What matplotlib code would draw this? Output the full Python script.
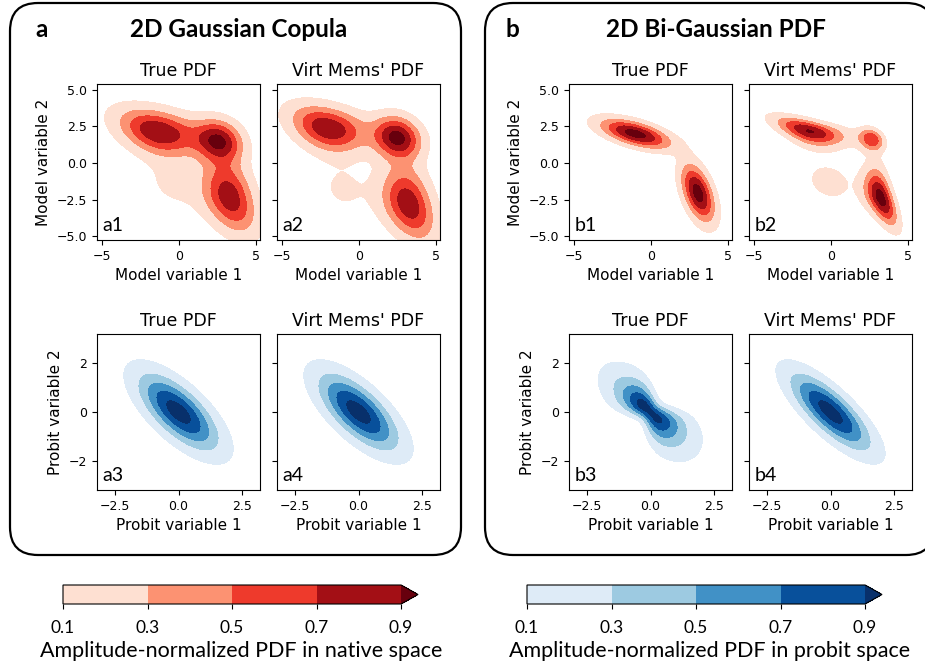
import math
import numpy as np
import matplotlib
matplotlib.use("Agg")
import matplotlib.pyplot as plt
from matplotlib.patches import FancyBboxPatch
from matplotlib.transforms import IdentityTransform

# ------------------------------------------------------------------ data
levels = [0.1, 0.3, 0.5, 0.7, 0.9]
cbar_ticks = [0.1, 0.3, 0.5, 0.7, 0.9]
col_titles = ["True PDF", "Virt Mems' PDF"]

# case a : Gaussian copula with bimodal marginals (true)
a_x_w = [0.44, 0.56]
a_x_m = [-1.1, 3.0]
a_x_s = [1.6, 0.95]
a_y_w = [0.42, 0.58]
a_y_m = [-2.1, 1.9]
a_y_s = [1.5, 0.85]
a_rho_true = -0.70
a1_bandwidth = 0.6  # smoothing of the native-space estimate
# case a : virtual members' estimate
a2_x_w = [0.40, 0.60]
a2_x_m = [-1.8, 2.9]
a2_x_s = [1.45, 0.95]
a2_y_w = [0.42, 0.58]
a2_y_m = [-2.6, 2.1]
a2_y_s = [1.5, 0.85]
a_rho_virt = -0.70
a2_bandwidth = 0.6

# case b : bi-Gaussian PDF (two components)
b_w = [0.5, 0.5]
b_mx = [-1.0, 3.05]
b_my = [2.0, -2.05]
b_sx = [1.45, 0.68]
b_sy = [0.64, 1.25]
b_r = [-0.60, -0.50]
b_rho_virt = -0.79
b3_bandwidth = 0.24  # smoothing of the probit-space estimate

# ------------------------------------------------------------------ helpers
SQ2 = math.sqrt(2.0)
_erfc = np.vectorize(math.erfc)


def phi(z):
    return np.exp(-0.5 * z * z) / math.sqrt(2 * math.pi)


def Phi(z):
    return 0.5 * _erfc(-np.asarray(z, dtype=float) / SQ2)


def mix_pdf(x, w, m, s):
    return sum(wi * phi((x - mi) / si) / si for wi, mi, si in zip(w, m, s))


def mix_cdf(x, w, m, s):
    return sum(wi * Phi((x - mi) / si) for wi, mi, si in zip(w, m, s))


def mix_sf(x, w, m, s):
    return sum(wi * Phi(-(x - mi) / si) for wi, mi, si in zip(w, m, s))


_zt = np.linspace(-37, 0, 37001)
_logPt = np.log(Phi(_zt))


def ppf_low(p):
    return np.interp(np.log(np.maximum(p, 1e-300)), _logPt, _zt)


def probit_of(x, w, m, s):
    F = mix_cdf(x, w, m, s)
    S = mix_sf(x, w, m, s)
    return np.where(F <= 0.5, ppf_low(F), -ppf_low(S))


def copula_native(xg, yg, mxp, myp, rho):
    z1 = probit_of(xg, *mxp)
    z2 = probit_of(yg, *myp)
    Z1, Z2 = np.meshgrid(z1, z2)
    with np.errstate(divide="ignore", over="ignore"):
        logc = -(rho ** 2 * (Z1 ** 2 + Z2 ** 2) - 2 * rho * Z1 * Z2) / (2 * (1 - rho ** 2))
        logf = np.log(np.outer(mix_pdf(yg, *myp), mix_pdf(xg, *mxp)))
        d = np.exp(logc + logf)
    d[~np.isfinite(d)] = 0
    return d


def gauss_probit(zg, rho):
    Z1, Z2 = np.meshgrid(zg, zg)
    d = np.exp(-(Z1 ** 2 - 2 * rho * Z1 * Z2 + Z2 ** 2) / (2 * (1 - rho ** 2)))
    return d / d.max()


def bigauss(X, Y):
    d = 0
    for w, mx, my, sx, sy, r in zip(b_w, b_mx, b_my, b_sx, b_sy, b_r):
        u = (X - mx) / sx
        v = (Y - my) / sy
        q = (u * u - 2 * r * u * v + v * v) / (1 - r * r)
        d = d + w * np.exp(-0.5 * q) / (2 * math.pi * sx * sy * math.sqrt(1 - r * r))
    return d


def smooth(D, step, bw):
    n = int(np.ceil(4 * bw / step))
    k = np.exp(-0.5 * (np.arange(-n, n + 1) * step / bw) ** 2)
    k /= k.sum()
    D = np.apply_along_axis(lambda r: np.convolve(r, k, mode="same"), 0, D)
    D = np.apply_along_axis(lambda r: np.convolve(r, k, mode="same"), 1, D)
    return D


def norm(D):
    return D / D.max()


# grids (padded so smoothing has no edge loss)
xg_full = np.linspace(-8.3, 8.25, 473)
yg_full = np.linspace(-8.25, 8.4, 473)
step_n = xg_full[1] - xg_full[0]
zg = np.linspace(-4.2, 4.2, 316)

bxm = (b_w, b_mx, b_sx)
bym = (b_w, b_my, b_sy)

D_a1 = norm(smooth(copula_native(xg_full, yg_full, (a_x_w, a_x_m, a_x_s),
                                 (a_y_w, a_y_m, a_y_s), a_rho_true), step_n, a1_bandwidth))
D_a2 = norm(smooth(copula_native(xg_full, yg_full, (a2_x_w, a2_x_m, a2_x_s),
                                 (a2_y_w, a2_y_m, a2_y_s), a_rho_virt), step_n, a2_bandwidth))
D_a3 = gauss_probit(zg, a_rho_true)
D_a4 = gauss_probit(zg, a_rho_virt)

Xg, Yg = np.meshgrid(xg_full, yg_full)
D_b1 = norm(bigauss(Xg, Yg))
D_b2 = norm(copula_native(xg_full, yg_full, bxm, bym, b_rho_virt))

# probit-space density of the bi-Gaussian
xf = np.linspace(-20, 20, 40001)
x_of_z = np.interp(Phi(zg), mix_cdf(xf, *bxm), xf)
y_of_z = np.interp(Phi(zg), mix_cdf(xf, *bym), xf)
XZ, YZ = np.meshgrid(x_of_z, y_of_z)
jac = np.outer(phi(zg) / mix_pdf(y_of_z, *bym), phi(zg) / mix_pdf(x_of_z, *bxm))
D_b3 = norm(smooth(bigauss(XZ, YZ) * jac, zg[1] - zg[0], b3_bandwidth))
D_b4 = gauss_probit(zg, b_rho_virt)

# ------------------------------------------------------------------ figure
W, H = 925, 671
fig = plt.figure(figsize=(W / 100, H / 100), dpi=100)
CAL = ["Lato", "DejaVu Sans"]


def px_rect(x0, y0, w, h):
    return [x0 / W, 1 - (y0 + h) / H, w / W, h / H]


def box(x0, y0, x1, y1):
    # nearly transparent face keeps Agg from clipping the outline at the canvas edge
    p = FancyBboxPatch((x0, H - y1), x1 - x0, y1 - y0,
                       boxstyle="round,pad=0,rounding_size=28",
                       transform=IdentityTransform(), facecolor=(1, 1, 1, 0.002),
                       edgecolor="black", linewidth=1.6, clip_on=False, zorder=-5)
    fig.add_artist(p)


box(10, 3, 461, 555)
box(485, 3, 934, 555)

TS = 17.5
fig.text(35 / W, 1 - 37 / H, "a", fontsize=TS, fontweight="bold", family=CAL, va="baseline")
fig.text(239 / W, 1 - 37 / H, "2D Gaussian Copula", fontsize=TS, fontweight="bold",
         family=CAL, va="baseline", ha="center")
fig.text(506 / W, 1 - 37 / H, "b", fontsize=TS, fontweight="bold", family=CAL, va="baseline")
fig.text(716 / W, 1 - 37 / H, "2D Bi-Gaussian PDF", fontsize=TS, fontweight="bold",
         family=CAL, va="baseline", ha="center")

PW, PH = 163, 156
cols_a = [97, 277]
cols_b = [569, 749]
rows = [84, 334]

panels = [
    (cols_a[0], rows[0], xg_full, yg_full, D_a1, "Reds", "native", "a1", 0),
    (cols_a[1], rows[0], xg_full, yg_full, D_a2, "Reds", "native", "a2", 1),
    (cols_a[0], rows[1], zg, zg, D_a3, "Blues", "probit", "a3", 0),
    (cols_a[1], rows[1], zg, zg, D_a4, "Blues", "probit", "a4", 1),
    (cols_b[0], rows[0], xg_full, yg_full, D_b1, "Reds", "native", "b1", 0),
    (cols_b[1], rows[0], xg_full, yg_full, D_b2, "Reds", "native", "b2", 1),
    (cols_b[0], rows[1], zg, zg, D_b3, "Blues", "probit", "b3", 0),
    (cols_b[1], rows[1], zg, zg, D_b4, "Blues", "probit", "b4", 1),
]

cs_store = {}
for x0, y0, gx, gy, D, cmap, space, lab, col in panels:
    ax = fig.add_axes(px_rect(x0, y0, PW, PH))
    cs = ax.contourf(gx, gy, D, levels=levels, cmap=cmap, extend="max")
    cs_store[cmap] = cs
    if space == "native":
        ax.set_xlim(-5.3, 5.25)
        ax.set_ylim(-5.25, 5.4)
        ax.set_xticks([-5, 0, 5])
        ax.set_yticks([-5, -2.5, 0, 2.5, 5])
        ax.set_xlabel("Model variable 1", fontsize=11)
        if col == 0:
            ax.set_ylabel("Model variable 2", fontsize=11)
    else:
        ax.set_xlim(-3.2, 3.2)
        ax.set_ylim(-3.2, 3.2)
        ax.set_xticks([-2.5, 0, 2.5])
        ax.set_yticks([-2, 0, 2])
        ax.set_xlabel("Probit variable 1", fontsize=11)
        if col == 0:
            ax.set_ylabel("Probit variable 2", fontsize=11)
    if col == 1:
        ax.tick_params(labelleft=False)
    ax.tick_params(labelsize=9)
    ax.set_title(col_titles[col], fontsize=12.5)
    ax.text(0.035, 0.055, lab, transform=ax.transAxes, fontsize=14, family=CAL,
            va="baseline", ha="left")

# colorbars
for (x0, cmap, label, cx) in [(63, "Reds", "Amplitude-normalized PDF in native space", 241),
                              (527, "Blues", "Amplitude-normalized PDF in probit space", 710)]:
    cax = fig.add_axes(px_rect(x0, 585, 355, 19))
    cb = fig.colorbar(cs_store[cmap], cax=cax, orientation="horizontal", ticks=cbar_ticks)
    cb.ax.tick_params(labelsize=12.5, pad=8)
    cb.ax.set_xticklabels([f"{t:.1f}" for t in cbar_ticks])
    for t in cb.ax.get_xticklabels():
        t.set_fontfamily(CAL)
    fig.text(cx / W, 1 - 657 / H, label, fontsize=15.5, family=CAL, ha="center", va="baseline")

fig.savefig("out.png", dpi=100)
